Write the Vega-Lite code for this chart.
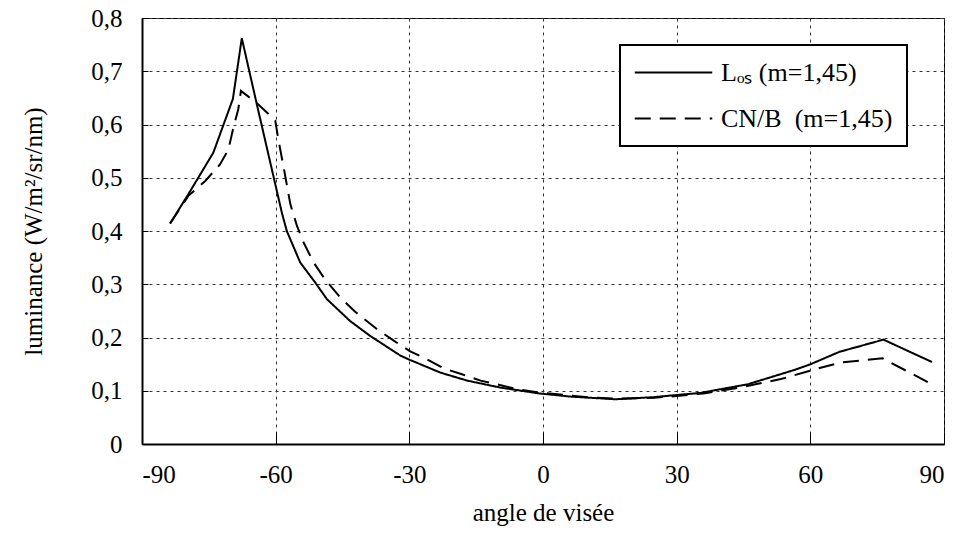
{
  "$schema": "https://vega.github.io/schema/vega-lite/v6.json",
  "width": 802,
  "height": 426,
  "autosize": "none",
  "padding": {"left": 142, "top": 18, "right": 18, "bottom": 102},
  "background": "white",
  "config": {
    "font": "Liberation Serif",
    "view": {"stroke": "black", "strokeWidth": 1},
    "axis": {
      "labelFont": "Liberation Serif",
      "titleFont": "Liberation Serif",
      "labelFontSize": 25,
      "titleFontSize": 25,
      "titleFontWeight": "normal",
      "labelColor": "black",
      "titleColor": "black",
      "domainColor": "black",
      "domainWidth": 2,
      "tickColor": "black",
      "grid": true,
      "gridColor": "#333333",
      "gridDash": [3, 4],
      "gridWidth": 1
    }
  },
  "data": {
    "values": [
      {"angle": -83.7, "lum": 0.414, "serie": "L"},
      {"angle": -79.6, "lum": 0.469, "serie": "L"},
      {"angle": -74.0, "lum": 0.547, "serie": "L"},
      {"angle": -69.6, "lum": 0.648, "serie": "L"},
      {"angle": -67.6, "lum": 0.762, "serie": "L"},
      {"angle": -64.2, "lum": 0.637, "serie": "L"},
      {"angle": -58.6, "lum": 0.434, "serie": "L"},
      {"angle": -57.5, "lum": 0.400, "serie": "L"},
      {"angle": -54.5, "lum": 0.341, "serie": "L"},
      {"angle": -51.1, "lum": 0.303, "serie": "L"},
      {"angle": -48.5, "lum": 0.272, "serie": "L"},
      {"angle": -43.3, "lum": 0.231, "serie": "L"},
      {"angle": -38.8, "lum": 0.203, "serie": "L"},
      {"angle": -32.0, "lum": 0.166, "serie": "L"},
      {"angle": -29.9, "lum": 0.158, "serie": "L"},
      {"angle": -23.0, "lum": 0.134, "serie": "L"},
      {"angle": -17.0, "lum": 0.119, "serie": "L"},
      {"angle": -9.6, "lum": 0.106, "serie": "L"},
      {"angle": -0.9, "lum": 0.095, "serie": "L"},
      {"angle": 6.2, "lum": 0.089, "serie": "L"},
      {"angle": 16.3, "lum": 0.084, "serie": "L"},
      {"angle": 24.9, "lum": 0.088, "serie": "L"},
      {"angle": 30.0, "lum": 0.092, "serie": "L"},
      {"angle": 35.4, "lum": 0.096, "serie": "L"},
      {"angle": 39.9, "lum": 0.103, "serie": "L"},
      {"angle": 45.9, "lum": 0.112, "serie": "L"},
      {"angle": 56.4, "lum": 0.139, "serie": "L"},
      {"angle": 60.1, "lum": 0.150, "serie": "L"},
      {"angle": 66.5, "lum": 0.173, "serie": "L"},
      {"angle": 76.4, "lum": 0.196, "serie": "L"},
      {"angle": 87.3, "lum": 0.154, "serie": "L"},
      {"angle": -83.7, "lum": 0.414, "serie": "CN"},
      {"angle": -79.6, "lum": 0.466, "serie": "CN"},
      {"angle": -75.8, "lum": 0.494, "serie": "CN"},
      {"angle": -72.5, "lum": 0.525, "serie": "CN"},
      {"angle": -70.6, "lum": 0.553, "serie": "CN"},
      {"angle": -69.5, "lum": 0.594, "serie": "CN"},
      {"angle": -68.4, "lum": 0.628, "serie": "CN"},
      {"angle": -67.8, "lum": 0.663, "serie": "CN"},
      {"angle": -64.2, "lum": 0.640, "serie": "CN"},
      {"angle": -60.1, "lum": 0.608, "serie": "CN"},
      {"angle": -59.4, "lum": 0.572, "serie": "CN"},
      {"angle": -58.0, "lum": 0.510, "serie": "CN"},
      {"angle": -56.7, "lum": 0.450, "serie": "CN"},
      {"angle": -55.2, "lum": 0.409, "serie": "CN"},
      {"angle": -53.7, "lum": 0.378, "serie": "CN"},
      {"angle": -51.5, "lum": 0.341, "serie": "CN"},
      {"angle": -48.9, "lum": 0.309, "serie": "CN"},
      {"angle": -45.5, "lum": 0.275, "serie": "CN"},
      {"angle": -42.1, "lum": 0.248, "serie": "CN"},
      {"angle": -37.3, "lum": 0.216, "serie": "CN"},
      {"angle": -33.5, "lum": 0.194, "serie": "CN"},
      {"angle": -29.8, "lum": 0.174, "serie": "CN"},
      {"angle": -26.0, "lum": 0.159, "serie": "CN"},
      {"angle": -22.3, "lum": 0.142, "serie": "CN"},
      {"angle": -18.2, "lum": 0.131, "serie": "CN"},
      {"angle": -14.0, "lum": 0.119, "serie": "CN"},
      {"angle": -10.3, "lum": 0.112, "serie": "CN"},
      {"angle": -5.8, "lum": 0.103, "serie": "CN"},
      {"angle": -1.3, "lum": 0.097, "serie": "CN"},
      {"angle": 5.0, "lum": 0.092, "serie": "CN"},
      {"angle": 10.0, "lum": 0.088, "serie": "CN"},
      {"angle": 16.3, "lum": 0.085, "serie": "CN"},
      {"angle": 25.0, "lum": 0.087, "serie": "CN"},
      {"angle": 30.0, "lum": 0.090, "serie": "CN"},
      {"angle": 36.0, "lum": 0.095, "serie": "CN"},
      {"angle": 43.6, "lum": 0.105, "serie": "CN"},
      {"angle": 53.4, "lum": 0.122, "serie": "CN"},
      {"angle": 60.9, "lum": 0.140, "serie": "CN"},
      {"angle": 66.9, "lum": 0.153, "serie": "CN"},
      {"angle": 76.2, "lum": 0.161, "serie": "CN"},
      {"angle": 87.3, "lum": 0.112, "serie": "CN"}
    ]
  },
  "mark": {"type": "line", "color": "black", "strokeWidth": 2},
  "encoding": {
    "x": {
      "field": "angle",
      "type": "quantitative",
      "scale": {"domain": [-90, 90], "nice": false, "zero": false},
      "axis": {
        "values": [-90, -60, -30, 0, 30, 60, 90],
        "title": "angle de visée",
        "labelExpr": "datum.value + ''",
        "tickSize": -12,
        "labelPadding": 30,
        "titlePadding": 13
      }
    },
    "y": {
      "field": "lum",
      "type": "quantitative",
      "scale": {"domain": [0, 0.8], "nice": false},
      "axis": {
        "values": [0, 0.1, 0.2, 0.3, 0.4, 0.5, 0.6, 0.7, 0.8],
        "title": "luminance (W/m²/sr/nm)",
        "labelExpr": "datum.value == 0 ? '0' : replace(format(datum.value, '.1f'), '.', ',')",
        "tickSize": -6,
        "labelPadding": 26,
        "titlePadding": 44
      }
    },
    "strokeDash": {
      "field": "serie",
      "type": "nominal",
      "scale": {"domain": ["L", "CN"], "range": [[1, 0], [16, 9]]},
      "legend": {
        "title": null,
        "orient": "none",
        "legendX": 478,
        "legendY": 27,
        "fillColor": "white",
        "strokeColor": "black",
        "padding": 14,
        "symbolType": "M-3.1,0H3.1",
        "symbolSize": 625,
        "symbolOffset": 26,
        "symbolStrokeWidth": 2,
        "symbolStrokeColor": "black",
        "labelFont": "Liberation Serif",
        "labelFontSize": 26,
        "labelColor": "black",
        "labelLimit": 400,
        "labelOffset": 34,
        "rowPadding": 19,
        "labelExpr": "datum.value == 'L' ? 'Lₒₛ (m=1,45)' : 'CN/B\u00a0\u00a0(m=1,45)\u00a0'",
        "encode": {"legend": {"update": {"strokeWidth": {"value": 2}}}}
      }
    }
  }
}
